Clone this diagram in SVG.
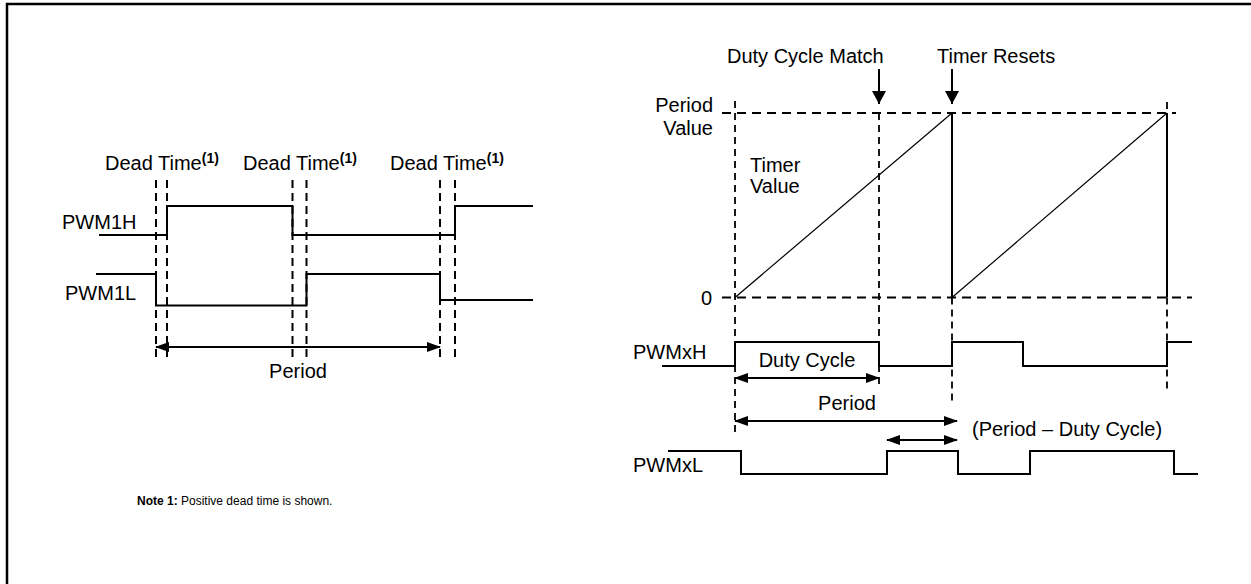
<svg xmlns="http://www.w3.org/2000/svg" width="1251" height="584" viewBox="0 0 1251 584">
<style>
text{font-family:"Liberation Sans",Arial,sans-serif;font-size:20px;fill:#000}
.sup{font-size:14px;font-weight:bold}
.sig{fill:none;stroke:#000;stroke-width:2;stroke-linejoin:miter}
.dv{fill:none;stroke:#000;stroke-width:2;stroke-dasharray:8,5}
.dh{fill:none;stroke:#000;stroke-width:1.8;stroke-dasharray:9,6}
.dv2{fill:none;stroke:#000;stroke-width:1.8;stroke-dasharray:7,5}
.ramp{fill:none;stroke:#000;stroke-width:1.2}
.arr{fill:none;stroke:#000;stroke-width:2}
.note{font-size:12px}
</style>
<defs>
<marker id="ah" markerWidth="14" markerHeight="10" refX="13" refY="5" orient="auto-start-reverse" markerUnits="userSpaceOnUse">
<path d="M0,0 L14,5 L0,10 Z" fill="#000"/>
</marker>
<marker id="ad" markerWidth="14" markerHeight="13" refX="7" refY="13" orient="0" markerUnits="userSpaceOnUse">
<path d="M0,0 L14,0 L7,13 Z" fill="#000"/>
</marker>
</defs>

<g id="frame">
<path d="M7,584 V4 H1251" fill="none" stroke="#000" stroke-width="2.5"/>
</g>

<g id="left-diagram">
<g id="deadtime-labels">
<text x="105" y="170">Dead Time<tspan class="sup" dy="-7">(1)</tspan></text>
<text x="243" y="170">Dead Time<tspan class="sup" dy="-7">(1)</tspan></text>
<text x="390" y="170">Dead Time<tspan class="sup" dy="-7">(1)</tspan></text>
</g>
<g id="deadtime-guides">
<path class="dv" d="M156,180 V360 M167,180 V360 M292.5,180 V360 M306.5,180 V360 M440,180 V360 M455,180 V360"/>
</g>
<g id="pwm1h">
<text x="62" y="229">PWM1H</text>
<path class="sig" d="M99,235 H167 V206 H292.5 V235 H455 V206 H533"/>
</g>
<g id="pwm1l">
<text x="65" y="300">PWM1L</text>
<path class="sig" d="M96,274 H156 V305.5 H306.5 V274 H440 V300 H533"/>
</g>
<g id="period-left">
<line class="arr" x1="156" y1="347" x2="440" y2="347" marker-start="url(#ah)" marker-end="url(#ah)"/>
<text x="298" y="378" text-anchor="middle">Period</text>
</g>
</g>

<g id="right-diagram">
<g id="event-labels">
<text x="727" y="63">Duty Cycle Match</text>
<text x="937" y="63">Timer Resets</text>
<line class="arr" x1="879" y1="69" x2="879" y2="104" marker-end="url(#ad)"/>
<line class="arr" x1="952" y1="69" x2="952" y2="104" marker-end="url(#ad)"/>
</g>
<g id="axes">
<text x="713" y="112" text-anchor="end">Period</text>
<text x="713" y="135" text-anchor="end">Value</text>
<text x="712" y="305" text-anchor="end">0</text>
<path class="dh" d="M722,113 H1176"/>
<path class="dh" d="M722,297.5 H1192"/>
<path class="dv2" d="M735,101 V432"/>
<path class="dv2" d="M879,113 V386"/>
<path class="dv2" d="M952,297.5 V402"/>
<path class="dv2" d="M1167,102 V113 M1167,297.5 V390"/>
</g>
<g id="timer">
<text x="750" y="172">Timer</text>
<text x="750" y="193">Value</text>
<path class="ramp" d="M735,297.5 L952,113 M952,297.5 L1167,113"/>
<path class="sig" d="M952,113 V297.5 M1167,113 V297.5"/>
</g>
<g id="pwmxh">
<text x="633" y="359">PWMxH</text>
<path class="sig" d="M662,366 H735 V342 H879 V366 H952 V342 H1023 V366 H1167 V342 H1192"/>
</g>
<g id="duty-cycle">
<line class="arr" x1="735" y1="378" x2="879" y2="378" marker-start="url(#ah)" marker-end="url(#ah)"/>
<text x="807" y="367" text-anchor="middle">Duty Cycle</text>
</g>
<g id="period-right">
<line class="arr" x1="735" y1="421" x2="957" y2="421" marker-start="url(#ah)" marker-end="url(#ah)"/>
<text x="847" y="410" text-anchor="middle">Period</text>
</g>
<g id="period-minus-duty">
<line class="arr" x1="887" y1="440" x2="957" y2="440" marker-start="url(#ah)" marker-end="url(#ah)"/>
<text x="972" y="436">(Period – Duty Cycle)</text>
</g>
<g id="pwmxl">
<text x="633" y="472">PWMxL</text>
<path class="sig" d="M668,451 H741 V474 H887 V451 H958 V474 H1030 V451 H1174 V474 H1198"/>
</g>
</g>

<g id="note">
<text class="note" x="137" y="505"><tspan font-weight="bold">Note 1:</tspan>  Positive dead time is shown.</text>
</g>
</svg>
